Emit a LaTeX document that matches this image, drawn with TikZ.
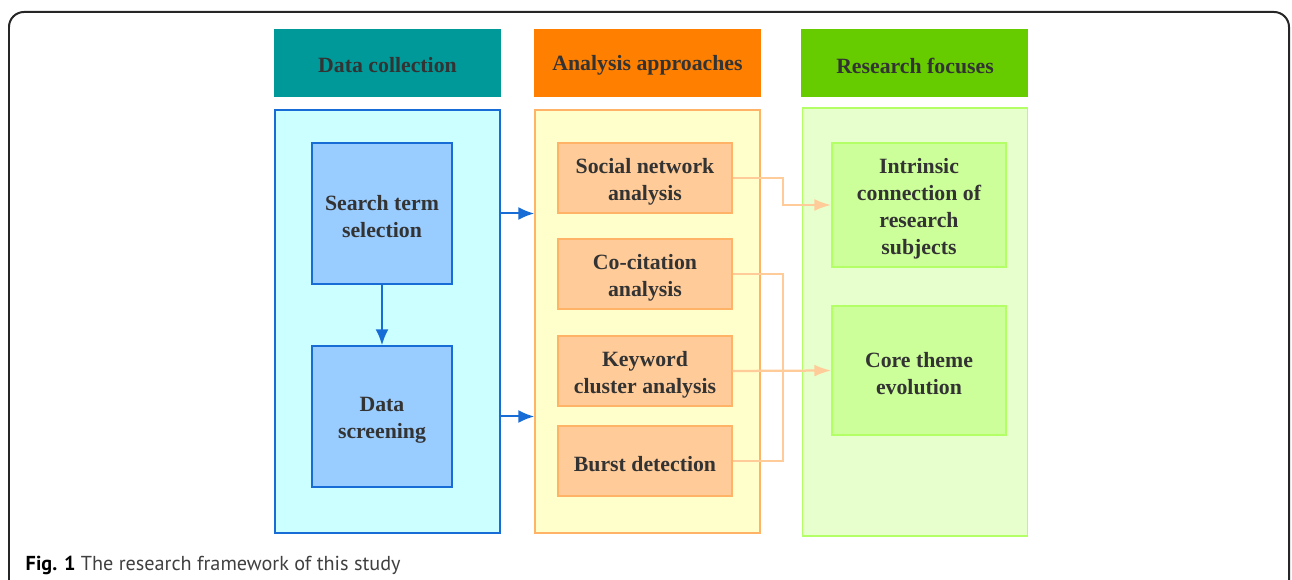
\documentclass[tikz,border=0pt]{standalone}
\usepackage{fontspec}
\setmainfont{Liberation Serif}
\newfontfamily\capfont{PT Sans}
\usetikzlibrary{arrows.meta}
\definecolor{txtgray}{RGB}{51,51,51}
\definecolor{teal0}{RGB}{0,153,153}
\definecolor{orange0}{RGB}{255,128,0}
\definecolor{green0}{RGB}{102,204,0}
\definecolor{cyanbg}{RGB}{204,255,255}
\definecolor{bluebd}{RGB}{24,108,214}
\definecolor{bluebox}{RGB}{153,204,255}
\definecolor{yellowbg}{RGB}{255,255,204}
\definecolor{orangebd}{RGB}{255,179,102}
\definecolor{orangebox}{RGB}{255,204,153}
\definecolor{greenbg}{RGB}{230,255,204}
\definecolor{greenbd}{RGB}{179,255,102}
\definecolor{greenbox}{RGB}{204,255,153}
\begin{document}
\begin{tikzpicture}[x=0.02cm, y=-0.02cm, every node/.style = {shape=rectangle, align=center, text=txtgray, inner sep=0pt, font=\fontsize{12.4}{15.4}\selectfont\bfseries}, line width=0.3mm]
	\tikzstyle{head} = [minimum width=4.54cm, minimum height=1.36cm, yshift=-0.05cm]
	\tikzstyle{panel} = [minimum width=4.5cm, minimum height=8.46cm]
	\tikzstyle{src} = [draw=bluebd, fill=bluebox, minimum width=2.8cm, minimum height=2.82cm]
	\tikzstyle{meth} = [draw=orangebd, fill=orangebox, minimum width=3.48cm, minimum height=1.4cm]
	\tikzstyle{focus} = [draw=greenbd, fill=greenbox, minimum width=3.48cm]
	\tikzstyle{bluearrow} = [draw=bluebd, line width=0.4mm, -{Latex[length=0.32cm, width=0.26cm]}]
	\tikzstyle{pipe} = [draw=orangebox, line width=0.45mm]
	\tikzstyle{oraarrow} = [pipe, -{Latex[length=0.34cm, width=0.24cm]}]
	\useasboundingbox (0,0) rectangle (1292,580);
	\draw[rounded corners=0.3cm, line width=0.4mm, draw=black!85] (9,650) |- (1289,12) -- (1289,650);
	% column heads
	\fill[teal0] (274,29) rectangle (501,97);
	\fill[orange0] (534,29) rectangle (761,97);
	\fill[green0] (801,29) rectangle (1028,97);
	\node[head] (hdc) at (387.5,63) {Data collection};
	\node[head] (haa) at (647.5,63) {Analysis approaches};
	\node[head] (hrf) at (915,63) {Research focuses};
	% panels
	\node[panel, draw=bluebd, fill=cyanbg] (pdc) at (387.5,321.5) {};
	\node[panel, draw=orangebd, fill=yellowbg] (paa) at (647.5,321.5) {};
	\node[panel, draw=greenbd, fill=greenbg, minimum height=8.56cm] (prf) at (915,322) {};
	% data collection
	\node[src] (sts) at (382,213.5) {\\[-0.1cm]Search term\\selection};
	\node[src] (ds) at (382,416.5) {\\[-0.1cm]Data\\screening};
	% analysis approaches
	\node[meth] (sna) at (645,178) {\\[-0.1cm]Social network\\analysis};
	\node[meth] (cca) at (645,274) {\\[-0.1cm]Co-citation\\analysis};
	\node[meth] (kca) at (645,371) {\\[-0.1cm]Keyword\\cluster analysis};
	\node[meth] (bd) at (645,461) {\\[-0.1cm]Burst detection};
	% research focuses
	\node[focus, minimum height=2.48cm] (ics) at (919,205) {\\[-0.1cm]Intrinsic\\connection of\\research\\subjects};
	\node[focus, minimum height=2.58cm] (cte) at (919,370.5) {\\[-0.1cm]Core theme\\evolution};
	% connectors
	\draw[bluearrow] (sts) -- (ds);
	\draw[bluearrow] (sts.east -| pdc.east) -- (sts.east -| paa.west);
	\draw[bluearrow] (ds.east -| pdc.east) -- (ds.east -| paa.west);
	\draw[oraarrow] (sna.east) -- ++(50,0) |- (ics.west);
	\draw[pipe] (cca.east) -- ++(50,0) |- (bd.east);
	\draw[oraarrow] (kca.east) -- (cte.west);
	% caption
	\node[anchor=west, font=\capfont\fontsize{11.5}{13}\selectfont, text=black!75] (cap) at (25,565) {\textbf{\color{black}Fig. 1} The research framework of this study};
\end{tikzpicture}
\end{document}
